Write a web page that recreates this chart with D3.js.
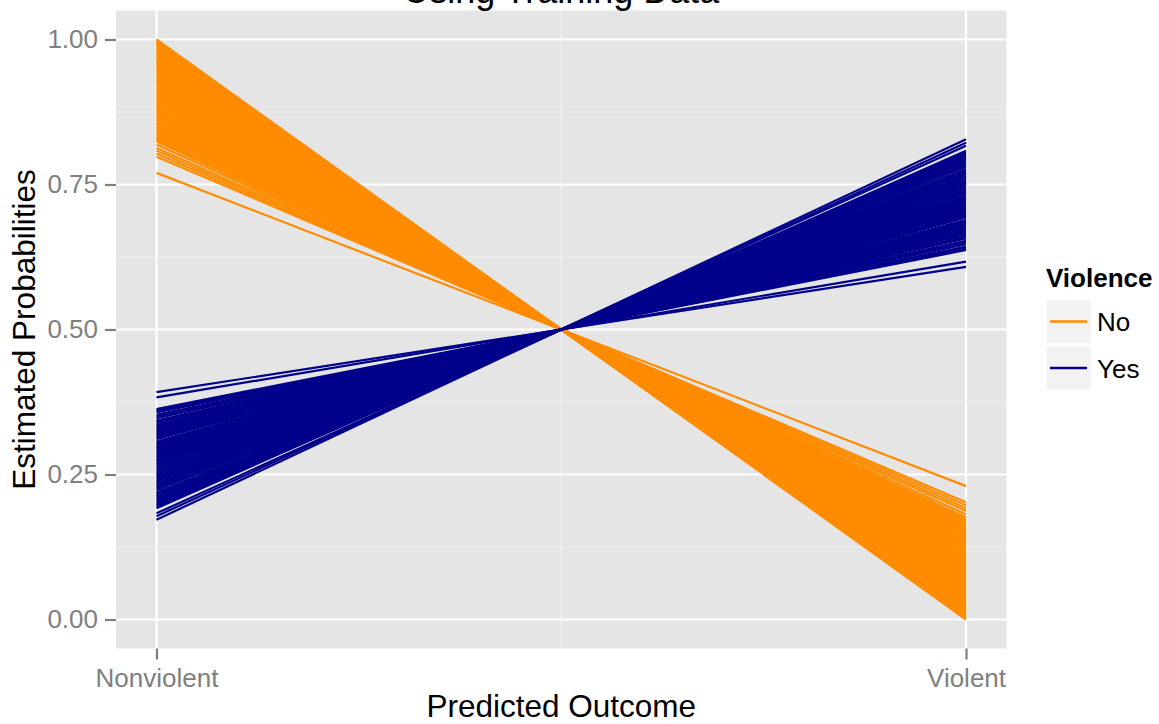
<!DOCTYPE html>
<html>
<head>
<meta charset="utf-8">
<script src="https://cdn.jsdelivr.net/npm/d3@7"></script>
<style>
  html, body { margin: 0; padding: 0; background: #ffffff; }
  svg { display: block; font-family: "Liberation Sans", Arial, Helvetica, sans-serif; }
</style>
</head>
<body>
<svg id="chart" width="1159" height="724"></svg>
<script>
// Outcome categories on the x axis
const outcomes = ["Nonviolent", "Violent"];

// Estimated probability of a nonviolent outcome, one value per case,
// for cases that were not violent (No) and cases that were violent (Yes)
const probNo = [
  0.770, 0.798, 0.803, 0.808, 0.813, 0.819,
  0.824, 0.827, 0.829, 0.832, 0.835, 0.838, 0.841, 0.844, 0.846, 0.849,
  0.852, 0.855, 0.858, 0.861, 0.863, 0.866, 0.869, 0.872, 0.875, 0.878,
  0.880, 0.883, 0.886, 0.889, 0.892, 0.895, 0.897, 0.900, 0.903, 0.906,
  0.909, 0.912, 0.914, 0.917, 0.920, 0.923, 0.926, 0.929, 0.931, 0.934,
  0.937, 0.940, 0.943, 0.946, 0.948, 0.951, 0.954, 0.957, 0.960, 0.963,
  0.965, 0.968, 0.971, 0.974, 0.977, 0.980, 0.982, 0.985, 0.988, 0.991,
  0.994, 0.997, 1.000
];
const probYes = [
  0.172, 0.178, 0.183,
  0.192, 0.195, 0.198, 0.201, 0.204, 0.207, 0.210, 0.213, 0.216, 0.219,
  0.223, 0.226, 0.229, 0.232, 0.235, 0.238, 0.241, 0.244, 0.247, 0.250,
  0.253, 0.256, 0.259, 0.262, 0.265, 0.268, 0.271, 0.274, 0.277, 0.280,
  0.283, 0.286, 0.289, 0.292, 0.295, 0.298, 0.301, 0.304, 0.307, 0.311,
  0.314, 0.317, 0.320, 0.323, 0.326, 0.329, 0.332, 0.335, 0.338, 0.341,
  0.343, 0.347, 0.350, 0.353, 0.357, 0.360, 0.363,
  0.383, 0.392
];

// Legend entries
const groups = ["No", "Yes"];
const groupColors = ["#FF8C00", "#00008B"];

// Axis ticks
const yTicks = [0, 0.25, 0.5, 0.75, 1];
const yMinor = [0.125, 0.375, 0.625, 0.875];

const svg = d3.select("#chart");

const panel = { left: 116, right: 1006.5, top: 10.5, bottom: 648.5 };

const x = d3.scalePoint()
  .domain(outcomes)
  .range([panel.left, panel.right])
  .padding(0.05);

const y = d3.scaleLinear()
  .domain([-0.05, 1.05])
  .range([panel.bottom, panel.top]);

const color = d3.scaleOrdinal().domain(groups).range(groupColors);

// Panel background
svg.append("rect")
  .attr("x", panel.left).attr("y", panel.top)
  .attr("width", panel.right - panel.left)
  .attr("height", panel.bottom - panel.top)
  .attr("fill", "#E5E5E5");

const grid = svg.append("g");

// Minor grid lines
grid.selectAll("line.ymin").data(yMinor).enter().append("line")
  .attr("x1", panel.left).attr("x2", panel.right)
  .attr("y1", d => y(d)).attr("y2", d => y(d))
  .attr("stroke", "#F2F2F2").attr("stroke-width", 1.1);
const xMid = (x(outcomes[0]) + x(outcomes[1])) / 2;
grid.append("line")
  .attr("x1", xMid).attr("x2", xMid)
  .attr("y1", panel.top).attr("y2", panel.bottom)
  .attr("stroke", "#F2F2F2").attr("stroke-width", 1.1);

// Major grid lines
grid.selectAll("line.ymaj").data(yTicks).enter().append("line")
  .attr("x1", panel.left).attr("x2", panel.right)
  .attr("y1", d => y(d)).attr("y2", d => y(d))
  .attr("stroke", "#FFFFFF").attr("stroke-width", 2.2);
grid.selectAll("line.xmaj").data(outcomes).enter().append("line")
  .attr("x1", d => x(d)).attr("x2", d => x(d))
  .attr("y1", panel.top).attr("y2", panel.bottom)
  .attr("stroke", "#FFFFFF").attr("stroke-width", 2.2);

// One line per case: probability of each outcome
const line = d3.line().x(d => x(d.outcome)).y(d => y(d.p));
const toPath = p => [
  { outcome: outcomes[0], p: p },
  { outcome: outcomes[1], p: 1 - p }
];

const marks = svg.append("g");
[["No", probNo], ["Yes", probYes]].forEach(([g, vals]) => {
  marks.append("g").selectAll("path").data(vals).enter().append("path")
    .attr("d", p => line(toPath(p)))
    .attr("fill", "none")
    .attr("stroke", color(g))
    .attr("stroke-width", 2.2);
});

// Y axis
const yAxis = svg.append("g").attr("transform", `translate(${panel.left},0)`)
  .call(d3.axisLeft(y).tickValues(yTicks).tickFormat(d3.format(".2f")).tickSize(11).tickPadding(7));
yAxis.select(".domain").remove();
yAxis.selectAll(".tick line").attr("stroke", "#7F7F7F").attr("stroke-width", 2.2);
yAxis.selectAll(".tick text").attr("fill", "#7F7F7F").attr("font-size", 26)
  .attr("font-family", "Liberation Sans, Arial, sans-serif");

// X axis
const xAxis = svg.append("g").attr("transform", `translate(0,${panel.bottom})`)
  .call(d3.axisBottom(x).tickSize(11).tickPadding(9));
xAxis.select(".domain").remove();
xAxis.selectAll(".tick line").attr("stroke", "#7F7F7F").attr("stroke-width", 2.2);
xAxis.selectAll(".tick text").attr("fill", "#7F7F7F").attr("font-size", 26)
  .attr("font-family", "Liberation Sans, Arial, sans-serif");

// Titles
const cx = (panel.left + panel.right) / 2;
svg.append("text").attr("x", cx).attr("y", 3)
  .attr("text-anchor", "middle").attr("font-size", 36).attr("fill", "#000")
  .text("Using Training Data");
svg.append("text").attr("x", cx).attr("y", 717)
  .attr("text-anchor", "middle").attr("font-size", 31.5).attr("fill", "#000")
  .text("Predicted Outcome");
svg.append("text")
  .attr("transform", `translate(35,${(panel.top + panel.bottom) / 2}) rotate(-90)`)
  .attr("text-anchor", "middle").attr("font-size", 31.5).attr("fill", "#000")
  .text("Estimated Probabilities");

// Legend
const legend = svg.append("g");
legend.append("text").attr("x", 1046).attr("y", 287)
  .attr("font-size", 26).attr("font-weight", "bold").attr("fill", "#000")
  .text("Violence");
groups.forEach((g, i) => {
  const top = 300 + i * 46.5;
  legend.append("rect").attr("x", 1047).attr("y", top)
    .attr("width", 44).attr("height", 43).attr("fill", "#F2F2F2");
  legend.append("line")
    .attr("x1", 1050).attr("x2", 1087)
    .attr("y1", top + 21.5).attr("y2", top + 21.5)
    .attr("stroke", color(g)).attr("stroke-width", 2.6);
  legend.append("text").attr("x", 1097).attr("y", top + 31)
    .attr("font-size", 26).attr("fill", "#000").text(g);
});
</script>
</body>
</html>
